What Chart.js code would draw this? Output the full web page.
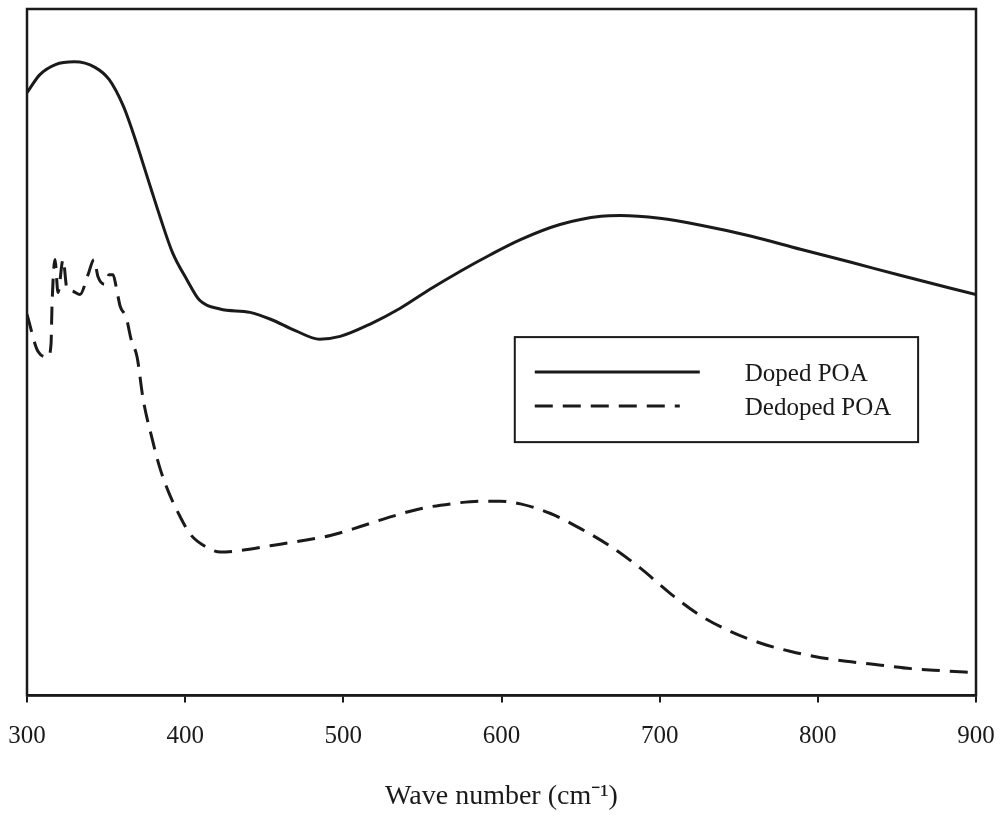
<!DOCTYPE html>
<html lang="en">
<head>
    <meta charset="UTF-8">
    <title>Doped / Dedoped POA spectra</title>
    <script src="https://cdn.jsdelivr.net/npm/chart.js@4.4.0/dist/chart.umd.js"></script>
    <style>
        html, body { margin: 0; padding: 0; background: #fff; }
        #wrap { width: 1001px; height: 823px; }
    </style>
</head>
<body>
    <div id="wrap"><canvas id="spectrum"></canvas></div>

    <script>
        // x ticks shown on the axis
        const xTicks = [300, 400, 500, 600, 700, 800, 900];

        // Doped POA (solid line) - wave number / relative absorbance
        const dopedX = [300, 308, 318, 330, 343, 352, 361, 367, 378, 384, 392, 401, 409, 422, 441, 454, 470, 485, 498, 517, 536, 555, 574, 593, 612, 637, 663, 675, 700, 726, 758, 789, 821, 852, 900];
        const dopedY = [0.878, 0.904, 0.919, 0.923, 0.915, 0.897, 0.858, 0.820, 0.741, 0.698, 0.645, 0.606, 0.576, 0.563, 0.558, 0.548, 0.531, 0.519, 0.523, 0.541, 0.564, 0.592, 0.618, 0.642, 0.664, 0.686, 0.698, 0.699, 0.695, 0.685, 0.669, 0.650, 0.631, 0.612, 0.584];

        // Dedoped POA (dashed line)
        const dedopedX = [300, 307, 313.3, 315.2, 315.8, 317.7, 319.6, 322.8, 325.3, 328.5, 333.5, 338.6, 342.4, 344.9, 349.4, 351.9, 354.4, 356.3, 358.9, 362.7, 365.8, 369.6, 373.4, 379.1, 384.2, 389.2, 395.6, 403.2, 412.7, 422.2, 434.8, 453.8, 472.8, 491.8, 510.8, 529.7, 548.7, 567.7, 586.7, 599.4, 612, 631, 650, 669, 688, 707, 726, 745, 764, 783, 802, 821, 840, 859, 878, 900];
        const dedopedY = [0.555, 0.501, 0.493, 0.512, 0.567, 0.635, 0.587, 0.635, 0.592, 0.589, 0.584, 0.613, 0.635, 0.610, 0.599, 0.613, 0.613, 0.596, 0.567, 0.551, 0.519, 0.493, 0.432, 0.374, 0.330, 0.298, 0.266, 0.235, 0.217, 0.209, 0.211, 0.218, 0.225, 0.233, 0.246, 0.260, 0.272, 0.279, 0.283, 0.283, 0.279, 0.265, 0.243, 0.217, 0.185, 0.148, 0.116, 0.093, 0.076, 0.064, 0.055, 0.049, 0.044, 0.039, 0.036, 0.033];

        const seriesNames = ['Doped POA', 'Dedoped POA'];

        function toPoints(xs, ys) {
            return xs.map((x, i) => ({ x: x, y: ys[i] }));
        }

        const ink = '#1a1a1a';
        const serif = '"Liberation Serif", "Times New Roman", serif';

        // box around the plot area
        const framePlugin = {
            id: 'frame',
            afterDatasetsDraw(chart) {
                const { ctx, chartArea: a } = chart;
                ctx.save();
                ctx.strokeStyle = ink;
                ctx.lineWidth = 2.5;
                ctx.strokeRect(a.left, a.top, a.right - a.left, a.bottom - a.top);
                ctx.restore();
            }
        };

        // legend box drawn inside the plot, like the original figure
        const boxLegend = {
            id: 'boxLegend',
            afterDraw(chart) {
                const { ctx, chartArea: a } = chart;
                const w = a.right - a.left, h = a.bottom - a.top;
                const x0 = a.left + w * 0.514, x1 = a.left + w * 0.939;
                const y0 = a.top + h * 0.478, y1 = a.top + h * 0.631;
                ctx.save();
                ctx.fillStyle = '#fff';
                ctx.fillRect(x0, y0, x1 - x0, y1 - y0);
                ctx.strokeStyle = ink;
                ctx.lineWidth = 2;
                ctx.strokeRect(x0, y0, x1 - x0, y1 - y0);

                const rows = [y0 + 35, y0 + 69];
                const lineEnds = [x0 + 185, x0 + 165];
                chart.data.datasets.forEach((ds, i) => {
                    ctx.beginPath();
                    ctx.setLineDash(ds.borderDash || []);
                    ctx.lineWidth = 3;
                    ctx.moveTo(x0 + 20, rows[i]);
                    ctx.lineTo(lineEnds[i], rows[i]);
                    ctx.stroke();
                    ctx.setLineDash([]);
                    ctx.fillStyle = ink;
                    ctx.font = '25px ' + serif;
                    ctx.textBaseline = 'middle';
                    ctx.fillText(ds.label, x0 + 230, rows[i] + 2);
                });
                ctx.restore();
            }
        };

        new Chart(document.getElementById('spectrum'), {
            type: 'line',
            data: {
                datasets: [{
                    label: seriesNames[0],
                    data: toPoints(dopedX, dopedY),
                    borderColor: ink,
                    borderWidth: 3,
                    pointRadius: 0,
                    fill: false,
                    cubicInterpolationMode: 'monotone'
                }, {
                    label: seriesNames[1],
                    data: toPoints(dedopedX, dedopedY),
                    borderColor: ink,
                    borderWidth: 3,
                    borderDash: [18, 10],
                    pointRadius: 0,
                    fill: false,
                    cubicInterpolationMode: 'monotone'
                }]
            },
            options: {
                responsive: true,
                maintainAspectRatio: false,
                animation: false,
                layout: { padding: { left: 27, right: 25, top: 9, bottom: 10 } },
                plugins: {
                    legend: { display: false },
                    tooltip: { enabled: false }
                },
                scales: {
                    x: {
                        type: 'linear',
                        min: 300,
                        max: 900,
                        afterBuildTicks: axis => {
                            axis.ticks = xTicks.map(v => ({ value: v }));
                        },
                        afterFit: axis => {
                            // let the end labels hang into the page margin
                            axis.paddingLeft = 0;
                            axis.paddingRight = 0;
                        },
                        grid: {
                            drawOnChartArea: false,
                            drawTicks: true,
                            tickLength: 7,
                            color: ink,
                            lineWidth: 2
                        },
                        border: { display: true, color: ink, width: 2.5 },
                        ticks: {
                            color: ink,
                            font: { family: serif, size: 25 },
                            padding: 19,
                            maxRotation: 0,
                            autoSkip: false
                        },
                        title: {
                            display: true,
                            text: 'Wave number (cm\u207B\u00B9)',
                            color: ink,
                            font: { family: serif, size: 28 },
                            padding: { top: 9, bottom: 0 }
                        }
                    },
                    y: {
                        display: false,
                        min: 0,
                        max: 1
                    }
                }
            },
            plugins: [framePlugin, boxLegend]
        });
    </script>
</body>
</html>
